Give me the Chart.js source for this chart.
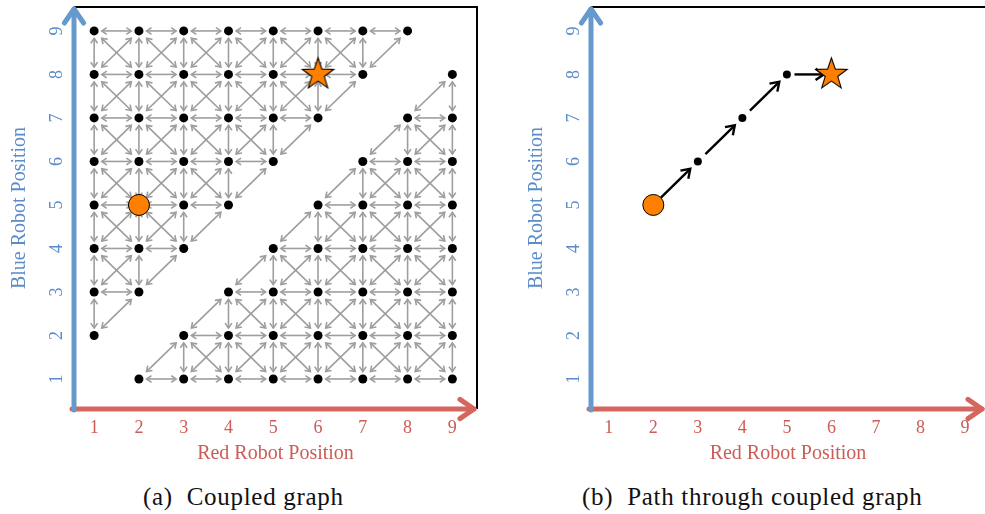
<!DOCTYPE html>
<html>
<head>
<meta charset="utf-8">
<script src="https://cdn.jsdelivr.net/npm/chart.js@4.4.1/dist/chart.umd.min.js"></script>
<style>
    html, body { margin: 0; padding: 0; background: #fff; }
    #wrap { position: relative; width: 985px; height: 514px; overflow: hidden; }
    canvas { position: absolute; top: 0; }
    #coupledChart { left: 0; }
    #pathChart { left: 492px; }
    .caption {
        position: absolute; top: 482px; white-space: nowrap;
        font-family: 'Liberation Serif', serif; font-size: 25px; line-height: 30px;
        letter-spacing: 0.7px; color: #111;
    }
</style>
</head>
<body>
<div id="wrap">
    <canvas id="coupledChart" width="492" height="470"></canvas>
    <canvas id="pathChart" width="493" height="470"></canvas>
    <div class="caption" style="left:143px">(a)&nbsp; Coupled graph</div>
    <div class="caption" style="left:582px">(b)&nbsp; Path through coupled graph</div>
</div>
<script>
// --- DATA ---

const positions = [1, 2, 3, 4, 5, 6, 7, 8, 9];

// red robot positions that exist for each blue robot position (row 0 -> blue = 1)
const redAtBlue = [
    [2, 3, 4, 5, 6, 7, 8, 9],
    [1, 3, 4, 5, 6, 7, 8, 9],
    [1, 2, 4, 5, 6, 7, 8, 9],
    [1, 2, 3, 5, 6, 7, 8, 9],
    [1, 2, 3, 4, 6, 7, 8, 9],
    [1, 2, 3, 4, 5, 7, 8, 9],
    [1, 2, 3, 4, 5, 6, 8, 9],
    [1, 2, 3, 4, 5, 6, 7, 9],
    [1, 2, 3, 4, 5, 6, 7, 8]
];

const startRed = [2];
const startBlue = [5];
const goalRed = [6];
const goalBlue = [8];

const pathRed = [2, 3, 4, 5, 6];
const pathBlue = [5, 6, 7, 8, 8];

// --- STYLE ---

const RED_TEXT = '#cc5c57';
const BLUE_TEXT = '#5b8cc9';
const RED_AXIS = '#d4665e';
const BLUE_AXIS = '#6699cc';
const ORANGE = '#ff7f00';
const FONT = "'Liberation Serif', 'Times New Roman', serif";

// --- GRAPH ---

const nodes = [];
redAtBlue.forEach((reds, i) => {
    reds.forEach(r => nodes.push({ x: r, y: positions[i] }));
});

// neighbouring states, but no swapping of the two robots
const edges = [];
for (let i = 0; i < nodes.length; i++) {
    for (let j = i + 1; j < nodes.length; j++) {
        const a = nodes[i], b = nodes[j];
        const d = Math.max(Math.abs(a.x - b.x), Math.abs(a.y - b.y));
        if (d === 1 && Math.sign(a.x - a.y) === Math.sign(b.x - b.y)) edges.push([a, b]);
    }
}

const pathEdges = [];
for (let i = 0; i < pathRed.length - 1; i++) {
    pathEdges.push([{ x: pathRed[i], y: pathBlue[i] }, { x: pathRed[i + 1], y: pathBlue[i + 1] }]);
}

// --- HELPERS ---

function makeStar(outer) {
    const c = document.createElement('canvas');
    const size = Math.ceil(outer * 2 + 4);
    c.width = size; c.height = size;
    const ctx = c.getContext('2d');
    const inner = outer * 0.4;
    ctx.beginPath();
    for (let k = 0; k < 10; k++) {
        const r = k % 2 === 0 ? outer : inner;
        const a = -Math.PI / 2 + k * Math.PI / 5;
        const px = size / 2 + r * Math.cos(a), py = size / 2 + r * Math.sin(a);
        if (k === 0) ctx.moveTo(px, py); else ctx.lineTo(px, py);
    }
    ctx.closePath();
    ctx.fillStyle = ORANGE;
    ctx.fill();
    ctx.lineWidth = 1.1;
    ctx.strokeStyle = '#000';
    ctx.stroke();
    return c;
}

function arrowHead(ctx, x, y, ang, len, spread) {
    ctx.beginPath();
    ctx.moveTo(x - len * Math.cos(ang - spread), y - len * Math.sin(ang - spread));
    ctx.lineTo(x, y);
    ctx.lineTo(x - len * Math.cos(ang + spread), y - len * Math.sin(ang + spread));
    ctx.stroke();
}

const edgePlugin = {
    id: 'edgeArrows',
    beforeDatasetsDraw(chart, args, opts) {
        const { ctx, scales: { x, y } } = chart;
        ctx.save();
        ctx.strokeStyle = opts.color;
        ctx.lineWidth = opts.width;
        ctx.lineCap = 'butt';
        ctx.lineJoin = 'miter';
        opts.edges.forEach(([a, b]) => {
            const x1 = x.getPixelForValue(a.x), y1 = y.getPixelForValue(a.y);
            const x2 = x.getPixelForValue(b.x), y2 = y.getPixelForValue(b.y);
            const dx = x2 - x1, dy = y2 - y1;
            const sx = x1 + dx * opts.trim, sy = y1 + dy * opts.trim;
            const ex = x2 - dx * opts.trim, ey = y2 - dy * opts.trim;
            const ang = Math.atan2(dy, dx);
            ctx.beginPath();
            ctx.moveTo(sx, sy);
            ctx.lineTo(ex, ey);
            ctx.stroke();
            arrowHead(ctx, ex, ey, ang, opts.head, opts.spread);
            if (opts.both) arrowHead(ctx, sx, sy, ang + Math.PI, opts.head, opts.spread);
        });
        ctx.restore();
    }
};

const framePlugin = {
    id: 'axisFrame',
    afterDraw(chart, args, opts) {
        const { ctx, chartArea: { left, right, top, bottom } } = chart;
        ctx.save();
        // black frame
        ctx.strokeStyle = '#000';
        ctx.lineWidth = 2;
        ctx.beginPath();
        ctx.moveTo(left, top);
        ctx.lineTo(opts.frameRight ? right : chart.width, top);
        if (opts.frameRight) ctx.lineTo(right, bottom);
        ctx.stroke();

        ctx.lineWidth = 5;
        ctx.lineCap = 'round';
        ctx.lineJoin = 'round';
        // red axis
        ctx.strokeStyle = RED_AXIS;
        ctx.beginPath();
        ctx.moveTo(left - 2, bottom);
        ctx.lineTo(right - 3, bottom);
        ctx.stroke();
        arrowHead(ctx, right - 3, bottom, 0, 17, 0.6);
        // blue axis
        ctx.strokeStyle = BLUE_AXIS;
        ctx.beginPath();
        ctx.moveTo(left, bottom + 1);
        ctx.lineTo(left, top + 2);
        ctx.stroke();
        arrowHead(ctx, left, top + 2, -Math.PI / 2, 17, 0.6);
        ctx.restore();
    }
};

function makeScales(xRange, yRange, yAxisWidth, yTitlePad) {
    return {
        x: {
            type: 'linear', min: xRange[0], max: xRange[1],
            afterBuildTicks: s => { s.ticks = positions.map(v => ({ value: v })); },
            afterFit: s => { s.height = 61; s.paddingLeft = 0; s.paddingRight = 0; },
            grid: { display: false, drawTicks: false },
            border: { display: false },
            ticks: { color: RED_TEXT, font: { family: FONT, size: 18 }, padding: 8 },
            title: { display: true, text: 'Red Robot Position', color: RED_TEXT, font: { family: FONT, size: 20 }, padding: 4 }
        },
        y: {
            type: 'linear', min: yRange[0], max: yRange[1],
            afterBuildTicks: s => { s.ticks = positions.map(v => ({ value: v })); },
            afterFit: s => { s.width = yAxisWidth; s.paddingTop = 0; s.paddingBottom = 0; },
            grid: { display: false, drawTicks: false },
            border: { display: false },
            ticks: { color: BLUE_TEXT, font: { family: FONT, size: 18 }, padding: 12.5, minRotation: 90, maxRotation: 90, crossAlign: 'center' },
            title: { display: true, text: 'Blue Robot Position', color: BLUE_TEXT, font: { family: FONT, size: 20 }, padding: yTitlePad }
        }
    };
}

const baseOptions = {
    responsive: false,
    animation: false,
    events: [],
    plugins: { legend: { display: false }, tooltip: { enabled: false } }
};

// --- (a) COUPLED GRAPH ---

new Chart(document.getElementById('coupledChart'), {
    type: 'scatter',
    data: {
        datasets: [
            { data: goalRed.map((r, i) => ({ x: r, y: goalBlue[i] })), pointStyle: makeStar(16.5), order: 0 },
            { data: startRed.map((r, i) => ({ x: r, y: startBlue[i] })), pointRadius: 10.5, backgroundColor: ORANGE, borderColor: '#000', borderWidth: 1, order: 1 },
            { data: nodes, pointRadius: 4.5, backgroundColor: '#000', borderWidth: 0, order: 2 }
        ]
    },
    options: {
        ...baseOptions,
        layout: { autoPadding: false, padding: { top: 7, right: 15, left: 0, bottom: 0 } },
        scales: makeScales([0.55, 9.55], [0.31, 9.55], 74, 8),
        plugins: {
            ...baseOptions.plugins,
            edgeArrows: { edges: edges, color: '#9e9e9e', width: 1.6, trim: 0.17, head: 6, spread: 0.6, both: true },
            axisFrame: { frameRight: true }
        }
    },
    plugins: [edgePlugin, framePlugin]
});

// --- (b) PATH THROUGH COUPLED GRAPH ---

new Chart(document.getElementById('pathChart'), {
    type: 'scatter',
    data: {
        datasets: [
            { data: goalRed.map((r, i) => ({ x: r, y: goalBlue[i] })), pointStyle: makeStar(16.5), order: 0 },
            { data: startRed.map((r, i) => ({ x: r, y: startBlue[i] })), pointRadius: 10.5, backgroundColor: ORANGE, borderColor: '#000', borderWidth: 1, order: 1 },
            { data: pathRed.slice(1, -1).map((r, i) => ({ x: r, y: pathBlue[i + 1] })), pointRadius: 4, backgroundColor: '#000', borderWidth: 0, order: 2 }
        ]
    },
    options: {
        ...baseOptions,
        layout: { autoPadding: false, padding: { top: 7, right: 0, left: 0, bottom: 0 } },
        scales: makeScales([0.6, 9.45], [0.31, 9.55], 99, 33),
        plugins: {
            ...baseOptions.plugins,
            edgeArrows: { edges: pathEdges, color: '#000', width: 2.4, trim: 0.17, head: 10, spread: 0.6, both: false },
            axisFrame: { frameRight: false }
        }
    },
    plugins: [edgePlugin, framePlugin]
});
</script>
</body>
</html>
